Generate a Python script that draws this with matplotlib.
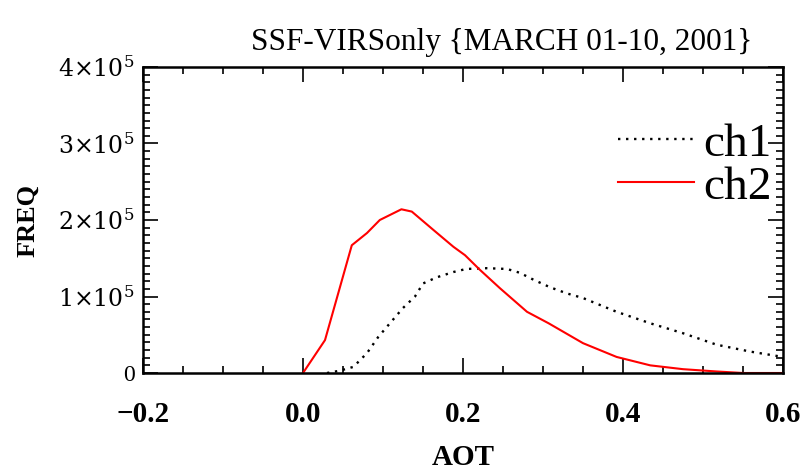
import matplotlib
matplotlib.use("Agg")
import matplotlib.pyplot as plt
from matplotlib.ticker import MultipleLocator, FixedLocator

# ---- data ----
ch1_aot = [0.03, 0.046, 0.063, 0.08, 0.094, 0.107, 0.125, 0.14, 0.15, 0.167, 0.188,
           0.204, 0.23, 0.255, 0.271, 0.288, 0.309, 0.33, 0.35, 0.392, 0.434, 0.475,
           0.517, 0.559, 0.6]
ch1_freq = [0.0, 0.03e5, 0.08e5, 0.26e5, 0.47e5, 0.63e5, 0.85e5, 1.0e5, 1.17e5, 1.25e5,
            1.32e5, 1.36e5, 1.37e5, 1.36e5, 1.31e5, 1.22e5, 1.12e5, 1.04e5, 0.98e5,
            0.80e5, 0.65e5, 0.52e5, 0.37e5, 0.28e5, 0.21e5]

ch2_aot = [0.0, 0.0275, 0.061, 0.08, 0.096, 0.123, 0.136, 0.163, 0.188, 0.2025, 0.221,
           0.246, 0.28, 0.307, 0.35, 0.392, 0.434, 0.475, 0.517, 0.55, 0.6]
ch2_freq = [0.0, 0.43e5, 1.67e5, 1.83e5, 2.0e5, 2.14e5, 2.11e5, 1.87e5, 1.65e5, 1.54e5,
            1.35e5, 1.11e5, 0.80e5, 0.65e5, 0.39e5, 0.21e5, 0.10e5, 0.05e5, 0.02e5,
            0.0, 0.0]

x_ticks = [-0.2, 0.0, 0.2, 0.4, 0.6]
x_tick_labels = ["\u22120.2", "0.0", "0.2", "0.4", "0.6"]
y_ticks = [0, 1e5, 2e5, 3e5, 4e5]
y_tick_labels = ["0", r"$1{\times}10^{5}$", r"$2{\times}10^{5}$",
                 r"$3{\times}10^{5}$", r"$4{\times}10^{5}$"]

title = "SSF-VIRSonly {MARCH 01-10, 2001}"
series_labels = ["ch1", "ch2"]

# ---- figure ----
plt.rcParams['mathtext.fontset'] = 'dejavuserif'
serif = ['Liberation Serif', 'DejaVu Serif']

fig = plt.figure(figsize=(8.05, 4.72), dpi=100)
ax = fig.add_axes([143/805, 1 - 373/472, (783 - 143)/805, (373 - 67)/472])

l1, = ax.plot(ch1_aot, ch1_freq, color='black', linestyle=(0, (1, 2.4)), linewidth=1.7)
l2, = ax.plot(ch2_aot, ch2_freq, color='red', linestyle='-', linewidth=1.5)

ax.set_xlim(-0.2, 0.6)
ax.set_ylim(0, 4e5)

ax.xaxis.set_major_locator(FixedLocator(x_ticks))
ax.set_xticklabels(x_tick_labels)
ax.xaxis.set_minor_locator(MultipleLocator(0.05))
ax.yaxis.set_major_locator(FixedLocator(y_ticks))
ax.set_yticklabels(y_tick_labels)
ax.yaxis.set_minor_locator(MultipleLocator(1e4))

ax.tick_params(which='both', direction='in', top=True, right=True, width=1.2)
ax.tick_params(which='major', length=11)
ax.tick_params(which='minor', length=5)
ax.tick_params(axis='x', which='major', pad=20)
ax.tick_params(axis='y', which='major', pad=6)

for lab in ax.get_xticklabels():
    lab.set_family(serif)
    lab.set_fontsize(21)
    lab.set_fontweight('bold')
for lab in ax.get_yticklabels():
    lab.set_family(serif)
    lab.set_fontsize(17)

for sp in ax.spines.values():
    sp.set_linewidth(1.8)

ax.set_title(title, family=serif, fontsize=22.5, pad=12, x=(502 - 143) / 640)
ax.set_xlabel("AOT", family=serif, fontsize=21, fontweight='bold', labelpad=12)
ax.set_ylabel("FREQ", family=serif, fontsize=19, fontweight='bold', labelpad=14)

leg = ax.legend([l1, l2], series_labels, loc='upper right',
                bbox_to_anchor=(1.012, 0.88), frameon=False,
                prop={'family': serif, 'size': 34},
                handlelength=1.6, handletextpad=0.2, labelspacing=0.0,
                borderaxespad=0)

fig.savefig("out.png", dpi=100)
